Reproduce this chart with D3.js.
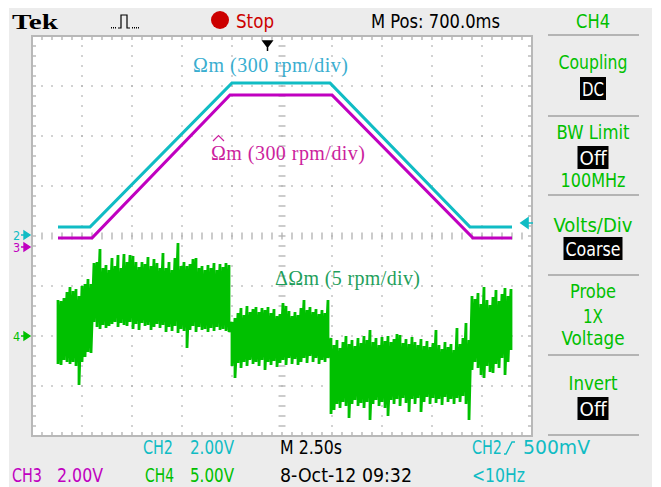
<!DOCTYPE html>
<html>
<head>
<meta charset="utf-8">
<script src="https://cdn.jsdelivr.net/npm/d3@7/dist/d3.min.js"></script>
<style>
html, body { margin: 0; padding: 0; background: #fff; }
svg { display: block; }
text { font-family: "DejaVu Sans Condensed", "DejaVu Sans", sans-serif; }
.serif { font-family: "Liberation Serif", "DejaVu Serif", serif; }
</style>
</head>
<body>
<svg id="scope" width="661" height="487"></svg>
<script>
// scope settings
const timePerDiv = 2.5;
const ch2RpmPerDiv = 300, ch3RpmPerDiv = 300, ch4RpmPerDiv = 5;
const ch2Ground = 0, ch3Ground = -0.22, ch4Ground = -2;

// CH2: measured speed (rpm) vs time (s)
const ch2Time = [1.3, 2.9, 10.0, 14.9, 21.9, 24.0];
const ch2Speed = [54, 54, 918, 918, 54, 54];

// CH3: estimated speed (rpm)
const ch3Time = [1.3, 3.0, 9.9, 15.0, 22.05, 24.0];
const ch3Speed = [54, 54, 912, 912, 54, 54];

// CH4: speed error (rpm), sampled min / max per column
const ch4Start = 1.3, ch4Step = 0.15;
const ch4High = [3.6,3.5,3.8,4.4,4.9,4.5,4.7,4.0,5.0,5.2,5.7,5.2,7.3,7.4,8.7,6.8,7.1,6.6,7.8,7.0,
  8.1,6.8,8.2,7.4,8.1,8.0,7.4,6.9,7.4,7.2,7.9,7.0,7.7,7.3,6.8,8.3,6.8,7.4,6.6,7.8,
  9.3,7.0,7.4,7.0,7.2,7.7,7.8,6.8,7.0,6.6,7.1,6.8,7.3,6.6,7.2,6.9,7.3,7.1,1.4,1.8,
  2.3,2.8,2.1,3.0,2.4,2.7,2.9,2.4,2.8,2.6,2.9,2.3,2.7,2.0,2.2,3.3,3.0,2.5,2.0,2.4,
  2.1,2.8,3.6,2.6,2.9,2.4,2.7,2.2,2.6,2.3,3.6,-0.2,-0.9,-0.4,-1.2,-0.6,0.0,-0.8,-0.4,-1.0,
  -0.2,-0.7,0.0,-0.4,0.6,-0.6,-0.2,-0.9,-0.1,-0.5,0.0,-0.6,-0.3,0.2,0.1,-0.7,-0.3,-0.8,-0.1,-0.6,
  -0.9,-0.3,-1.0,-0.5,-1.1,-0.7,0.6,-0.9,-1.3,-0.6,-1.1,-0.8,-1.4,0.8,-0.8,-0.2,1.3,-0.4,4.0,3.7,
  4.3,3.2,4.9,3.6,3.1,3.9,4.6,3.5,4.2,4.8,4.0,4.7];
const ch4Low = [-2.8,-2.9,-2.4,-2.6,-2.8,-2.6,-3.0,-4.9,-2.6,-2.1,-1.6,-1.7,1.4,0.9,0.7,1.1,0.8,1.0,1.2,1.4,
  0.9,1.3,1.1,1.0,1.4,0.7,1.2,0.6,1.3,1.0,1.1,0.6,0.9,1.2,0.8,1.1,0.4,0.9,0.5,1.0,
  0.3,0.7,0.5,-1.2,0.6,1.0,0.4,0.9,0.6,0.7,0.4,0.8,0.5,0.9,0.6,0.7,0.5,0.4,-3.0,-4.2,
  -2.7,-3.2,-2.6,-3.0,-2.4,-2.8,-2.6,-3.0,-2.4,-3.4,-2.6,-2.9,-2.5,-3.1,-2.7,-2.4,-2.9,-2.2,-2.8,-2.3,
  -2.9,-2.6,-2.2,-2.7,-2.0,-2.6,-2.2,-2.8,-2.4,-2.6,-2.2,-7.8,-7.4,-6.8,-7.2,-6.6,-7.0,-8.2,-6.8,-6.4,
  -7.0,-6.7,-7.2,-6.6,-8.4,-6.8,-6.4,-7.0,-6.6,-7.2,-8.0,-6.4,-6.8,-6.3,-7.0,-6.2,-6.7,-7.6,-6.3,-6.8,
  -6.2,-7.6,-6.6,-6.1,-6.8,-6.2,-6.7,-6.3,-6.9,-6.1,-6.6,-6.3,-6.8,-6.2,-6.6,-6.0,-6.8,-8.4,-3.4,-2.6,
  -3.2,-3.9,-4.2,-3.0,-3.6,-3.7,-2.8,-3.2,-2.2,-3.9,-2.6,-1.4];

// readout texts
const panelLabels = ["Coupling", "BW Limit", "100MHz", "Volts/Div", "Probe", "1X", "Voltage", "Invert"];
const panelBoxes = ["DC", "Off", "Coarse", "Off"];

const cyan = "#10bcc4", magenta = "#c000c0", green = "#00c000";

var svg = d3.select("#scope");
const gridLeft = 32, gridTop = 36, gridW = 500, gridH = 400;

var x = d3.scaleLinear().domain([0, 10 * timePerDiv]).range([gridLeft, gridLeft + gridW]);
var y = d3.scaleLinear().domain([-4, 4]).range([gridTop + gridH, gridTop]);
var gx = d3.scaleLinear().domain([0, 10]).range([gridLeft, gridLeft + gridW]);

// screen background
svg.append("rect").attr("x", 9).attr("y", 8).attr("width", 643).attr("height", 479).attr("fill", "#ececec");
svg.append("rect").attr("x", gridLeft).attr("y", gridTop).attr("width", gridW).attr("height", gridH).attr("fill", "#fff");

var grid = svg.append("g").attr("fill", "#b0b0b0").attr("stroke", "#b0b0b0");

// dotted graticule
d3.range(1, 10).filter(d => d !== 5).forEach(i => {
    d3.range(1, 40).forEach(j => {
        grid.append("rect").attr("x", gx(i) - 0.75).attr("y", y(-4 + j * 0.2) - 0.75)
            .attr("width", 1.5).attr("height", 1.5).attr("stroke", "none");
    });
});
d3.range(1, 8).filter(d => d !== 4).forEach(i => {
    d3.range(1, 50).forEach(j => {
        grid.append("rect").attr("x", gx(j * 0.2) - 0.75).attr("y", y(-4 + i) - 0.75)
            .attr("width", 1.5).attr("height", 1.5).attr("stroke", "none");
    });
});

// center cross ticks and border ticks
d3.range(1, 50).forEach(j => {
    var px = gx(j * 0.2);
    grid.append("line").attr("x1", px).attr("x2", px).attr("y1", y(0) - 3.5).attr("y2", y(0) + 3.5).attr("stroke-width", 1.3);
    grid.append("line").attr("x1", px).attr("x2", px).attr("y1", gridTop).attr("y2", gridTop + 4).attr("stroke-width", 1.3);
    grid.append("line").attr("x1", px).attr("x2", px).attr("y1", gridTop + gridH).attr("y2", gridTop + gridH - 4).attr("stroke-width", 1.3);
});
d3.range(1, 40).forEach(j => {
    var py = y(-4 + j * 0.2);
    grid.append("line").attr("x1", gx(5) - 3.5).attr("x2", gx(5) + 3.5).attr("y1", py).attr("y2", py).attr("stroke-width", 1.3);
    grid.append("line").attr("x1", gridLeft).attr("x2", gridLeft + 4).attr("y1", py).attr("y2", py).attr("stroke-width", 1.3);
    grid.append("line").attr("x1", gridLeft + gridW).attr("x2", gridLeft + gridW - 4).attr("y1", py).attr("y2", py).attr("stroke-width", 1.3);
});
grid.append("rect").attr("x", gridLeft).attr("y", gridTop).attr("width", gridW).attr("height", gridH)
    .attr("fill", "none").attr("stroke", "#b8b8b8").attr("stroke-width", 2);

// traces
var line = d3.line();
var yCh4 = v => y(ch4Ground + v / ch4RpmPerDiv);
var ch4Points = [];
ch4High.forEach((hi, i) => {
    var t = ch4Start + i * ch4Step;
    ch4Points.push([x(t), yCh4(hi)], [x(t), yCh4(ch4Low[i])]);
});
svg.append("path").attr("d", line(ch4Points)).attr("fill", "none")
    .attr("stroke", green).attr("stroke-width", 2.8).attr("stroke-linejoin", "bevel");

svg.append("path")
    .attr("d", line(ch3Time.map((t, i) => [x(t), y(ch3Ground + ch3Speed[i] / ch3RpmPerDiv)])))
    .attr("fill", "none").attr("stroke", magenta).attr("stroke-width", 3.2);
svg.append("path")
    .attr("d", line(ch2Time.map((t, i) => [x(t), y(ch2Ground + ch2Speed[i] / ch2RpmPerDiv)])))
    .attr("fill", "none").attr("stroke", cyan).attr("stroke-width", 3.2);

// channel ground markers
function marker(label, level, color) {
    var py = y(level);
    svg.append("text").attr("x", 13).attr("y", py + 4.5).attr("fill", color)
        .style("font-size", "12.5px").text(label);
    svg.append("path").attr("d", `M21,${py}H25M24,${py - 4}L30,${py}L24,${py + 4}Z`)
        .attr("stroke", color).attr("stroke-width", 1.4).attr("fill", color);
}
marker("2", ch2Ground + 0.02, cyan);
marker("3", ch3Ground, magenta);
marker("4", ch4Ground, green);

// trigger level and position
var trigY = y(ch2Ground + 0.26);
svg.append("path").attr("d", `M521,${trigY}L528,${trigY - 5}V${trigY + 5}Z M527,${trigY}H533`)
    .attr("fill", cyan).attr("stroke", cyan).attr("stroke-width", 1.6);
svg.append("path").attr("d", "M263,41H272L267.5,47Z M267.5,46V51")
    .attr("fill", "#000").attr("stroke", "#000").attr("stroke-width", 1.5);

// signal annotations
svg.append("text").attr("class", "serif").attr("x", 193).attr("y", 72).attr("fill", "#3aaed0")
    .style("font-size", "20px").attr("textLength", 155).text("Ωm (300 rpm/div)");
svg.append("text").attr("class", "serif").attr("x", 211).attr("y", 160).attr("fill", "#cc1f9e")
    .style("font-size", "20px").attr("textLength", 154).text("Ωm (300 rpm/div)");
svg.append("path").attr("d", "M213,141L218.5,135.5L224,141").attr("fill", "none")
    .attr("stroke", "#cc1f9e").attr("stroke-width", 1.2);
svg.append("text").attr("class", "serif").attr("x", 275).attr("y", 285).attr("fill", "#1f9f5c")
    .style("font-size", "20px").attr("textLength", 145).text("ΔΩm (5 rpm/div)");

// header
svg.append("text").attr("class", "serif").attr("x", 12).attr("y", 29).attr("fill", "#000")
    .style("font-size", "22px").style("font-weight", "bold")
    .attr("textLength", 46).attr("lengthAdjust", "spacingAndGlyphs").text("Tek");
svg.append("path").attr("d", "M118,28H121V15H127V28H130").attr("fill", "none").attr("stroke", "#000").attr("stroke-width", 1.2);
[111, 113, 115, 132, 134, 136, 138].forEach(d => {
    svg.append("rect").attr("x", d).attr("y", 27).attr("width", 1).attr("height", 1.5).attr("fill", "#000");
});
svg.append("circle").attr("cx", 220).attr("cy", 20).attr("r", 9).attr("fill", "#cc0000");

function scopeText(px, py, str, color, width, anchor) {
    return svg.append("text").attr("x", px).attr("y", py).attr("fill", color)
        .attr("text-anchor", anchor || "start").style("font-size", "19px")
        .attr("textLength", width).attr("lengthAdjust", "spacingAndGlyphs").text(str);
}
scopeText(236, 28, "Stop", "#cc0000", 38);
scopeText(371, 28, "M Pos: 700.0ms", "#000", 129);
scopeText(576, 28, "CH4", green, 34);

// bottom readout
scopeText(143, 454, "CH2", cyan, 30);
scopeText(190, 454, "2.00V", cyan, 44);
scopeText(280, 454, "M 2.50s", "#000", 62);
scopeText(472, 454, "CH2", cyan, 30);
svg.append("path").attr("d", "M504,454H506L512,442H515").attr("fill", "none").attr("stroke", cyan).attr("stroke-width", 1.4);
scopeText(523, 454, "500mV", cyan, 67);
scopeText(12, 482, "CH3", magenta, 30);
scopeText(57, 482, "2.00V", magenta, 46);
scopeText(145, 482, "CH4", green, 29);
scopeText(190, 482, "5.00V", green, 44);
scopeText(280, 482, "8-Oct-12 09:32", "#000", 132);
scopeText(472, 482, "<10Hz", cyan, 53);

// side menu
const cx = 593;
[35, 116, 195, 275, 355, 435].forEach(sy => {
    svg.append("line").attr("x1", 548).attr("x2", 639).attr("y1", sy).attr("y2", sy)
        .attr("stroke", "#b4b4b4").attr("stroke-width", 2);
});
const labelY = [69, 139, 187, 232, 298, 323, 345, 390];
const labelW = [69, 73, 65, 79, 46, 20, 63, 49];
panelLabels.forEach((d, i) => scopeText(cx, labelY[i], d, green, labelW[i], "middle"));
const boxY = [77, 146, 237, 397];
const boxW = [26, 31, 59, 31];
panelBoxes.forEach((d, i) => {
    svg.append("rect").attr("x", cx - boxW[i] / 2).attr("y", boxY[i]).attr("width", boxW[i]).attr("height", 23).attr("fill", "#000");
    scopeText(cx, boxY[i] + 19, d, "#fff", boxW[i] - 4, "middle");
});
</script>
</body>
</html>
